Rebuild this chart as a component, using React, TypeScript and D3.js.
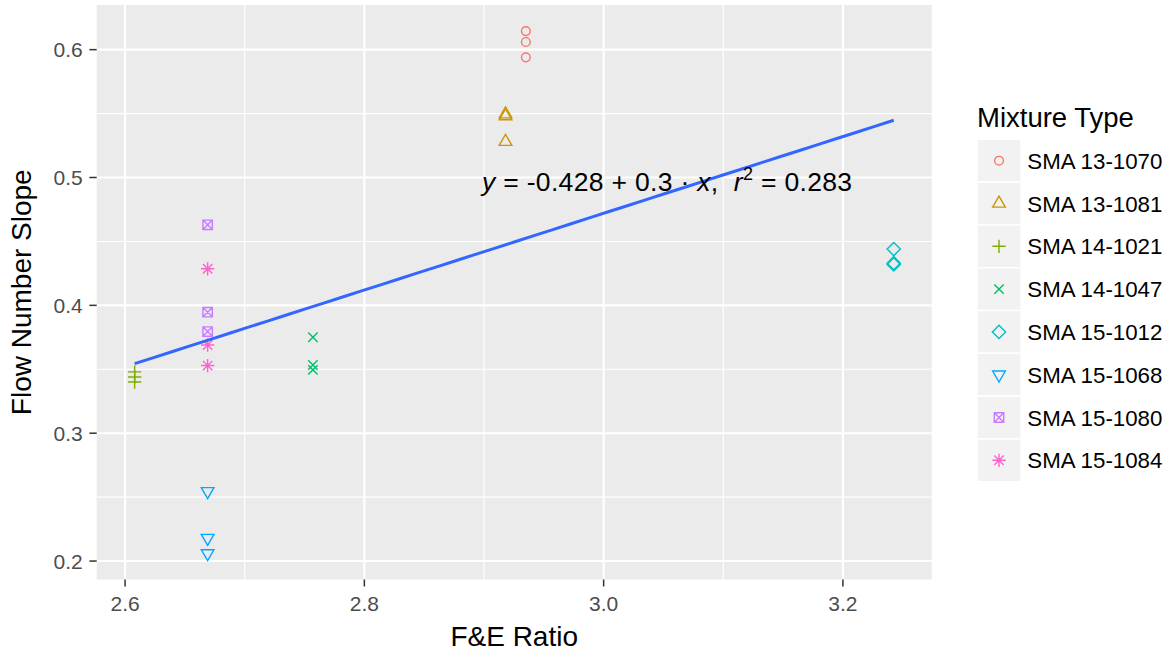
import React from "react";
import * as d3 from "d3";

const mixtures = ["SMA 13-1070", "SMA 13-1081", "SMA 14-1021", "SMA 14-1047", "SMA 15-1012", "SMA 15-1068", "SMA 15-1080", "SMA 15-1084"];
const colors = ["#F8766D", "#CD9600", "#7CAE00", "#00BE67", "#00BFC4", "#00A9FF", "#C77CFF", "#FF61CC"];
const shapes = ["circle", "triangle", "plus", "cross", "diamond", "triangleDown", "squareCross", "asterisk"];

// F&E ratio of each mixture
const feRatio = [2.935, 2.918, 2.608, 2.757, 3.2425, 2.669, 2.669, 2.669];
// flow number slope replicates of each mixture
const slopes = [
  [0.6145, 0.606, 0.594],
  [0.5495, 0.548, 0.528],
  [0.348, 0.344, 0.34],
  [0.3751, 0.3534, 0.3495],
  [0.444, 0.433, 0.432],
  [0.2546, 0.218, 0.206],
  [0.463, 0.3947, 0.3795],
  [0.4286, 0.369, 0.3529],
];

const xTicks = [2.6, 2.8, 3.0, 3.2];
const yTicks = [0.2, 0.3, 0.4, 0.5, 0.6];
const xMinor = [2.7, 2.9, 3.1];
const yMinor = [0.25, 0.35, 0.45, 0.55];

const fitIntercept = -0.428;
const fitSlope = 0.3;

const points = mixtures.flatMap((m, i) => slopes[i].map((s) => ({ m, i, x: feRatio[i], y: s })));

const FONT = "'Liberation Sans', Arial, Helvetica, sans-serif";
const R = 4.7;

function shapePath(shape: string, r: number): string {
  const s2 = Math.SQRT2 * r;
  const t0 = 1.555 * r, t1 = 1.347 * r, t2 = 0.778 * r;
  switch (shape) {
    case "triangle":
      return `M0,${-t0}L${t1},${t2}L${-t1},${t2}Z`;
    case "triangleDown":
      return `M0,${t0}L${t1},${-t2}L${-t1},${-t2}Z`;
    case "plus":
      return `M${-s2},0H${s2}M0,${-s2}V${s2}`;
    case "cross":
      return `M${-r},${-r}L${r},${r}M${-r},${r}L${r},${-r}`;
    case "diamond":
      return `M0,${-s2}L${s2},0L0,${s2}L${-s2},0Z`;
    case "squareCross":
      return `M${-r},${-r}H${r}V${r}H${-r}Z M${-r},${-r}L${r},${r}M${-r},${r}L${r},${-r}`;
    case "asterisk":
      return `M${-s2},0H${s2}M0,${-s2}V${s2}M${-r},${-r}L${r},${r}M${-r},${r}L${r},${-r}`;
    default:
      return "";
  }
}

function Marker({ shape, color, cx, cy }: { shape: string; color: string; cx: number; cy: number }) {
  if (shape === "circle") {
    return <circle cx={cx} cy={cy} r={R * 0.93} fill="none" stroke={color} strokeWidth={1.4} />;
  }
  return (
    <path
      d={shapePath(shape, R)}
      transform={`translate(${cx},${cy})`}
      fill="none"
      stroke={color}
      strokeWidth={1.4}
      strokeLinejoin="miter"
    />
  );
}

export default function App() {
  const panel = { left: 96.7, right: 931.7, top: 5, bottom: 579.5 };
  const [x0, x1] = d3.extent(points, (d) => d.x) as [number, number];
  const [y0, y1] = d3.extent(points, (d) => d.y) as [number, number];
  const xs = d3.scaleLinear().domain([x0 - 0.05 * (x1 - x0), x1 + 0.05 * (x1 - x0)]).range([panel.left, panel.right]);
  const ys = d3.scaleLinear().domain([y0 - 0.05 * (y1 - y0), y1 + 0.05 * (y1 - y0)]).range([panel.bottom, panel.top]);
  const fmt = d3.format(".1f");

  const fitLine = d3
    .line<number>()
    .x((v) => xs(v))
    .y((v) => ys(fitIntercept + fitSlope * v))(d3.range(0, 41).map((k) => x0 + ((x1 - x0) * k) / 40));

  const legendX = 977;
  const legendTop = 139.3;
  const keyH = 42.8;
  const keyW = 44;

  return (
    <svg width={1175} height={657} style={{ position: "absolute", left: 0, top: 0, background: "#fff" }} fontFamily={FONT}>
      <rect x={0} y={0} width={1175} height={657} fill="#fff" />
      <rect x={panel.left} y={panel.top} width={panel.right - panel.left} height={panel.bottom - panel.top} fill="#EBEBEB" />
      {xMinor.map((v) => (
        <line key={"xm" + v} x1={xs(v)} x2={xs(v)} y1={panel.top} y2={panel.bottom} stroke="#fff" strokeWidth={1.1} />
      ))}
      {yMinor.map((v) => (
        <line key={"ym" + v} x1={panel.left} x2={panel.right} y1={ys(v)} y2={ys(v)} stroke="#fff" strokeWidth={1.1} />
      ))}
      {xTicks.map((v) => (
        <line key={"xg" + v} x1={xs(v)} x2={xs(v)} y1={panel.top} y2={panel.bottom} stroke="#fff" strokeWidth={2.1} />
      ))}
      {yTicks.map((v) => (
        <line key={"yg" + v} x1={panel.left} x2={panel.right} y1={ys(v)} y2={ys(v)} stroke="#fff" strokeWidth={2.1} />
      ))}

      {points.map((p, k) => (
        <Marker key={k} shape={shapes[p.i]} color={colors[p.i]} cx={xs(p.x)} cy={ys(p.y)} />
      ))}

      <path d={fitLine || ""} fill="none" stroke="#3366FF" strokeWidth={3} />

      <text x={482} y={190.7} fontSize={26.5} fill="#000" style={{ whiteSpace: "pre" }} textLength={370} lengthAdjust="spacing">
        <tspan fontStyle="italic">y</tspan>
        <tspan>{" = -0.428 + 0.3 \u00B7 "}</tspan>
        <tspan fontStyle="italic">x</tspan>
        <tspan>{",  "}</tspan>
        <tspan fontStyle="italic">r</tspan>
        <tspan fontSize={18} dy={-11}>2</tspan>
        <tspan dy={11}>{" = 0.283"}</tspan>
      </text>

      {/* axes */}
      {yTicks.map((v) => (
        <g key={"yt" + v}>
          <line x1={panel.left - 7.3} x2={panel.left} y1={ys(v)} y2={ys(v)} stroke="#333" strokeWidth={1.5} />
          <text x={82.7} y={ys(v)} dy="0.36em" textAnchor="end" fontSize={21} fill="#4D4D4D">
            {fmt(v)}
          </text>
        </g>
      ))}
      {xTicks.map((v) => (
        <g key={"xt" + v}>
          <line x1={xs(v)} x2={xs(v)} y1={panel.bottom} y2={panel.bottom + 7} stroke="#333" strokeWidth={1.5} />
          <text x={xs(v)} y={611} textAnchor="middle" fontSize={21} fill="#4D4D4D">
            {fmt(v)}
          </text>
        </g>
      ))}
      <text x={(panel.left + panel.right) / 2} y={646} textAnchor="middle" fontSize={28} fill="#000">
        F&amp;E Ratio
      </text>
      <text
        transform={`translate(31,${(panel.top + panel.bottom) / 2}) rotate(-90)`}
        textAnchor="middle"
        fontSize={28}
        fill="#000"
      >
        Flow Number Slope
      </text>

      {/* legend */}
      <text x={legendX} y={126.7} fontSize={27.5} fill="#000">
        Mixture Type
      </text>
      {mixtures.map((m, i) => {
        const top = legendTop + i * keyH;
        return (
          <g key={m}>
            <rect x={legendX} y={top} width={keyW} height={keyH} fill="#F2F2F2" stroke="#fff" strokeWidth={1.5} />
            <Marker shape={shapes[i]} color={colors[i]} cx={legendX + keyW / 2} cy={top + keyH / 2} />
            <text x={1027.3} y={top + keyH / 2} dy="0.36em" fontSize={22.3} fill="#000">
              {m}
            </text>
          </g>
        );
      })}
    </svg>
  );
}
